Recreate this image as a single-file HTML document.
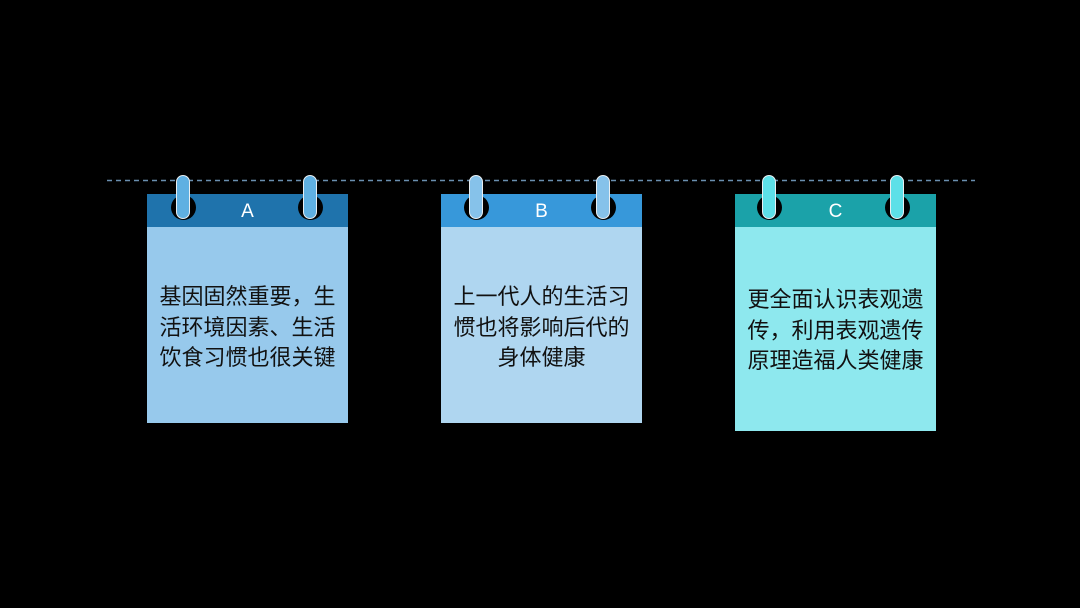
<!DOCTYPE html>
<html><head><meta charset="utf-8"><style>
body{margin:0;width:1080px;height:608px;background:#000;position:relative;overflow:hidden;font-family:"Liberation Sans","Noto Sans CJK SC",sans-serif}
.card{position:absolute;width:201px}
.hd{height:33px;color:#fff;font-size:19px;text-align:center;line-height:35px}
.bd{position:absolute;top:33px;left:0;right:0;color:#111;font-size:22px;line-height:30.5px;text-align:center;padding:55px 12px 0;box-sizing:border-box}
.ring{position:absolute;width:25px;height:25px;border-radius:50%;background:#000;top:1px}
.pill{position:absolute;width:12px;height:42px;border-radius:7px;border:1.5px solid #e8eef2;top:-19px}
</style></head><body>
<svg width="1080" height="608" style="position:absolute;left:0;top:0"><line x1="107" y1="180.5" x2="975" y2="180.5" stroke="#6a8fb0" stroke-width="1.5" stroke-dasharray="5 4"/></svg>

<div class="card" style="left:147px;top:194px">
<div class="hd" style="background:#1f73ac">A</div>
<div class="bd" style="background:#97c9ec;height:196px">基因固然重要，生活环境因素、生活饮食习惯也很关键</div>
<div class="ring" style="left:24px"></div><div class="ring" style="left:151px"></div>
<div class="pill" style="left:29px;background:#5fb0e2"></div><div class="pill" style="left:156px;background:#5fb0e2"></div>
</div>

<div class="card" style="left:441px;top:194px">
<div class="hd" style="background:#3798da">B</div>
<div class="bd" style="background:#afd6f0;height:196px">上一代人的生活习惯也将影响后代的身体健康</div>
<div class="ring" style="left:23px"></div><div class="ring" style="left:150px"></div>
<div class="pill" style="left:28px;background:#86c2ea"></div><div class="pill" style="left:155px;background:#86c2ea"></div>
</div>

<div class="card" style="left:735px;top:194px">
<div class="hd" style="background:#1ba2a9">C</div>
<div class="bd" style="background:#8ee8ee;height:204px;padding-top:58px">更全面认识表观遗传，利用表观遗传原理造福人类健康</div>
<div class="ring" style="left:22px"></div><div class="ring" style="left:150px"></div>
<div class="pill" style="left:27px;background:#5de0e8"></div><div class="pill" style="left:155px;background:#5de0e8"></div>
</div>
</body></html>
